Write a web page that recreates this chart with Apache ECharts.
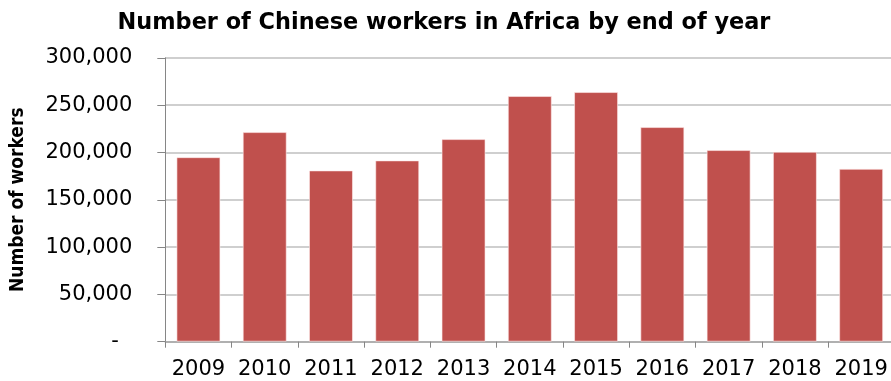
<!DOCTYPE html>
<html>
<head>
<meta charset="utf-8">
<script src="https://cdn.jsdelivr.net/npm/echarts@6/dist/echarts.min.js"></script>
<style>html,body{margin:0;padding:0;background:#fff}#c{width:891px;height:381px}</style>
</head>
<body>
<div id="c"></div>
<script>
var years = ['2009','2010','2011','2012','2013','2014','2015','2016','2017','2018','2019'];
var workers = [195000, 221500, 181000, 191600, 214100, 259600, 263800, 226800, 202500, 200700, 182700];
var yTicks = [0, 50000, 100000, 150000, 200000, 250000, 300000];
var titleText = 'Number of Chinese workers in Africa by end of year';
var yAxisTitle = 'Number of workers';

var chart = echarts.init(document.getElementById('c'));
chart.setOption({
  animation: false,
  title: {
    text: titleText,
    left: 439, top: 7, textAlign: 'center',
    textStyle: {fontFamily: 'DejaVu Sans', fontWeight: 'bold', fontSize: 22.4, color: '#000'}
  },
  grid: {left: 165.3, top: 57.8, bottom: 39.3, right: -3.3, containLabel: false, outerBoundsMode: 'none'},
  xAxis: {
    type: 'category', data: years,
    axisLine: {lineStyle: {color: '#a6a6a6', width: 1.5}},
    axisTick: {show: true, length: 6, lineStyle: {color: '#868686'}},
    axisLabel: {fontFamily: 'DejaVu Sans', fontSize: 21, color: '#000', margin: 17, interval: 0}
  },
  yAxis: {
    type: 'value', min: yTicks[0], max: yTicks[yTicks.length-1], interval: yTicks[1]-yTicks[0],
    name: yAxisTitle, nameLocation: 'middle', nameGap: 138, nameRotate: 90,
    nameTextStyle: {fontFamily: 'DejaVu Sans Condensed', fontWeight: 'bold', fontSize: 19, color: '#000'},
    axisLine: {show: true, lineStyle: {color: '#868686', width: 1}},
    axisTick: {show: true, length: 8, lineStyle: {color: '#868686'}},
    splitLine: {lineStyle: {color: '#bfbfbf', width: 1.5}},
    axisLabel: {
      fontFamily: 'DejaVu Sans', fontSize: 21, color: '#000', margin: 33,
      formatter: function (v) { return v === 0 ? '-  ' : v.toLocaleString('en-US'); }
    }
  },
  series: [{
    type: 'bar', data: workers, barWidth: 44,
    itemStyle: {color: '#c0504d', borderColor: 'rgba(255,235,235,0.6)', borderWidth: 1}
  }]
});
</script>
</body>
</html>
